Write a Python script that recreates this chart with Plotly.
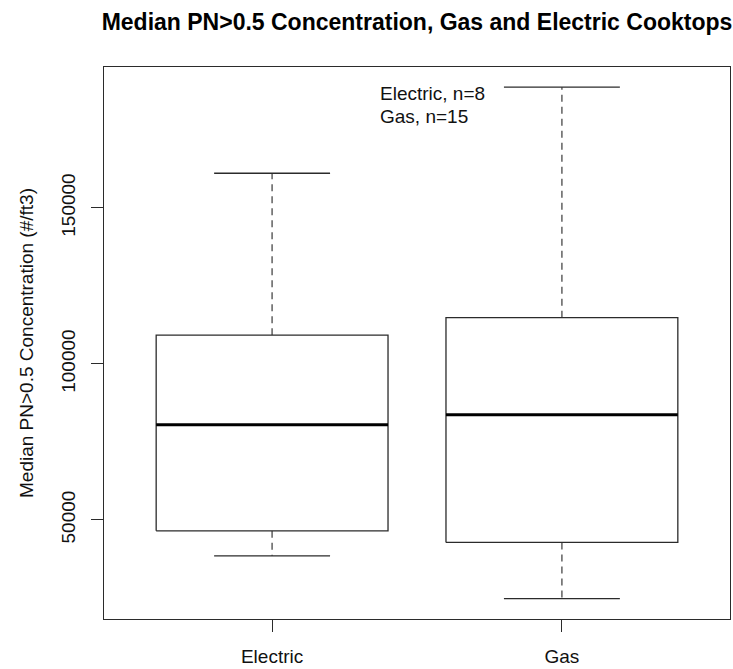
import plotly.graph_objects as go

# ---- data ----
categories = ["Electric", "Gas"]
lower_whisker = [38500, 24800]
q1 = [46500, 42800]
median = [80500, 83700]
q3 = [109200, 114800]
upper_whisker = [161100, 188700]
legend_lines = ["Electric, n=8", "Gas, n=15"]
y_ticks = [50000, 100000, 150000]

FONT = "Liberation Sans, Arial, Helvetica, sans-serif"
LINE = "#2b2b2b"
box_half = 0.4
cap_half = 0.2

xpos = [i + 1 for i in range(len(categories))]

box_x, box_y = [], []
med_x, med_y = [], []
wh_x, wh_y = [], []
cap_x, cap_y = [], []
for x, lo, a, m, b, hi in zip(xpos, lower_whisker, q1, median, q3, upper_whisker):
    box_x += [x - box_half, x + box_half, x + box_half, x - box_half, x - box_half, None]
    box_y += [a, a, b, b, a, None]
    med_x += [x - box_half, x + box_half, None]
    med_y += [m, m, None]
    wh_x += [x, x, None, x, x, None]
    wh_y += [b, hi, None, a, lo, None]
    cap_x += [x - cap_half, x + cap_half, None, x - cap_half, x + cap_half, None]
    cap_y += [hi, hi, None, lo, lo, None]

fig = go.Figure()
fig.add_trace(go.Scatter(x=wh_x, y=wh_y, mode="lines",
                         line=dict(color="#555555", width=1.4, dash="7px,5px"),
                         hoverinfo="skip", showlegend=False))
fig.add_trace(go.Scatter(x=cap_x, y=cap_y, mode="lines",
                         line=dict(color=LINE, width=1.3),
                         hoverinfo="skip", showlegend=False))
fig.add_trace(go.Scatter(x=box_x, y=box_y, mode="lines", fill="toself",
                         fillcolor="white", line=dict(color=LINE, width=1.3),
                         hoverinfo="skip", showlegend=False))
fig.add_trace(go.Scatter(x=med_x, y=med_y, mode="lines",
                         line=dict(color="black", width=3.2),
                         hoverinfo="skip", showlegend=False))

# legend-like text
for i, txt in enumerate(legend_lines):
    fig.add_annotation(text=txt, xref="x", yref="paper", x=1.365, y=1 - (27 + i * 22.7) / 557,
                       xanchor="left", yanchor="middle", showarrow=False,
                       font=dict(family=FONT, size=19, color="#111111"))

# y axis title
fig.add_annotation(text="Median PN>0.5 Concentration (#/ft3)", xref="paper", yref="paper",
                   x=0, y=0.5, xshift=-78, textangle=-90, showarrow=False,
                   xanchor="center", yanchor="middle",
                   font=dict(family=FONT, size=19, color="#111111"))

fig.update_layout(
    width=733, height=669,
    margin=dict(l=104, r=2, t=67, b=45),
    paper_bgcolor="white", plot_bgcolor="white",
    title=dict(text="Median PN>0.5 Concentration, Gas and Electric Cooktops",
               x=0.5, xref="paper", xanchor="center",
               y=1 - 22 / 669, yref="container", yanchor="middle",
               font=dict(family=FONT, size=23, color="black", weight="bold")),
    xaxis=dict(range=[0.42, 2.58], tickvals=xpos, ticktext=categories,
               showgrid=False, zeroline=False, showline=True, mirror=True,
               linecolor=LINE, linewidth=1.3, ticks="outside", ticklen=12,
               tickcolor=LINE, ticklabelstandoff=8,
               tickfont=dict(family=FONT, size=19, color="#111111")),
    yaxis=dict(range=[18250, 195150], tickvals=y_ticks, ticktext=[str(v) for v in y_ticks],
               showgrid=False, zeroline=False, showline=True, mirror=True,
               linecolor=LINE, linewidth=1.3, ticks="outside", ticklen=12,
               tickcolor=LINE, tickangle=-90, ticklabelstandoff=8,
               tickfont=dict(family=FONT, size=19, color="#111111")),
)

fig.write_html("out.html")
